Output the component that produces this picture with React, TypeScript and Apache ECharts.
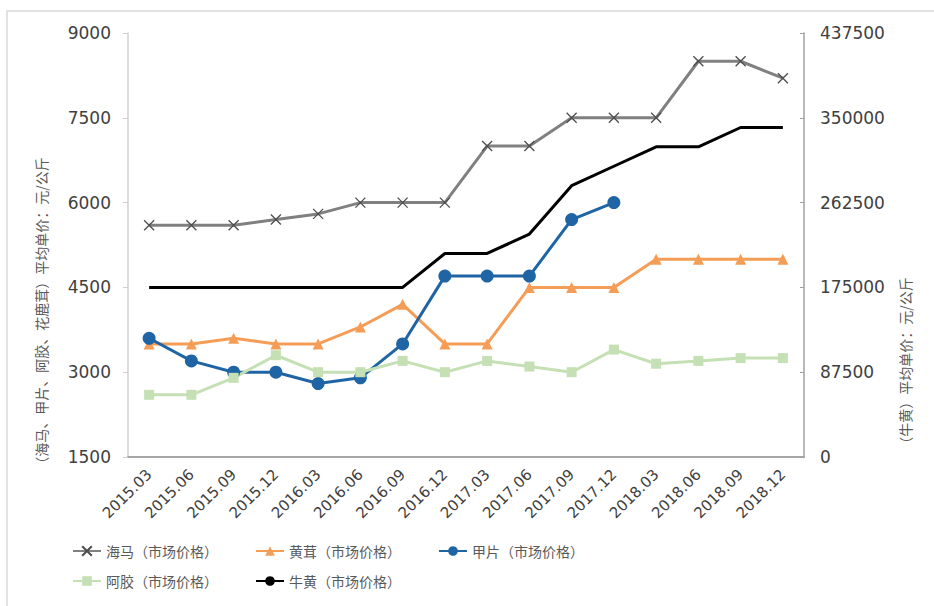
import React, { useEffect, useRef } from "react";
import * as echarts from "echarts";

const categories = [
  "2015.03", "2015.06", "2015.09", "2015.12", "2016.03", "2016.06", "2016.09", "2016.12",
  "2017.03", "2017.06", "2017.09", "2017.12", "2018.03", "2018.06", "2018.09", "2018.12",
];
const haima = [5600, 5600, 5600, 5700, 5800, 6000, 6000, 6000, 7000, 7000, 7500, 7500, 7500, 8500, 8500, 8200];
const huangrong = [3500, 3500, 3600, 3500, 3500, 3800, 4200, 3500, 3500, 4500, 4500, 4500, 5000, 5000, 5000, 5000];
const jiapian = [3600, 3200, 3000, 3000, 2800, 2900, 3500, 4700, 4700, 4700, 5700, 6000, null, null, null, null];
const ejiao = [2600, 2600, 2900, 3300, 3000, 3000, 3200, 3000, 3200, 3100, 3000, 3400, 3150, 3200, 3250, 3250];
const niuhuang = [175000, 175000, 175000, 175000, 175000, 175000, 175000, 210000, 210000, 230000, 280000, 300000, 320000, 320000, 340000, 340000];

const leftTicks = { min: 1500, max: 9000, interval: 1500 };
const rightTicks = { min: 0, max: 437500, interval: 87500 };

const names = ["海马（市场价格）", "黄茸（市场价格）", "甲片（市场价格）", "阿胶（市场价格）", "牛黄（市场价格）"];
const leftAxisName = "（海马、甲片、阿胶、花鹿茸）平均单价：元/公斤";
const rightAxisName = "（牛黄）平均单价：元/公斤";

const CJK = "'Noto Sans CJK SC', 'Noto Sans', sans-serif";
const NUM = "'DejaVu Sans', 'Liberation Sans', sans-serif";

export default function App() {
  const ref = useRef<HTMLDivElement>(null);
  useEffect(() => {
    if (!ref.current) return;
    const chart = echarts.init(ref.current, undefined, { renderer: "svg" });
    const legendBase = {
      orient: "horizontal",
      itemWidth: 28,
      itemHeight: 12,
      itemGap: 6,
      padding: 0,
      textStyle: { fontSize: 14, color: "#595959", fontFamily: CJK },
    };
    const legendPos = [
      [72, 544],
      [255, 544],
      [438, 544],
      [72, 574],
      [255, 574],
    ];
    const plain = (v: number) => String(v);
    chart.setOption({
      animation: false,
      backgroundColor: "#ffffff",
      grid: { left: 128, right: 130, top: 33, bottom: 149, containLabel: false },
      legend: names.map((n, i) => ({
        ...legendBase,
        data: [n],
        left: legendPos[i][0],
        top: legendPos[i][1],
      })),
      graphic: [
        {
          type: "rect",
          shape: { x: 7, y: 11, width: 960, height: 640 },
          style: { fill: "none", stroke: "#d9d9d9", lineWidth: 1.5 },
          silent: true,
        },
        {
          type: "text",
          x: 41,
          y: 314,
          rotation: Math.PI / 2,
          style: {
            text: leftAxisName,
            fontSize: 14,
            fill: "#595959",
            fontFamily: CJK,
            align: "center",
            verticalAlign: "middle",
          },
        },
        {
          type: "text",
          x: 905,
          y: 364,
          rotation: Math.PI / 2,
          style: {
            text: rightAxisName,
            fontSize: 14,
            fill: "#595959",
            fontFamily: CJK,
            align: "center",
            verticalAlign: "middle",
          },
        },
      ],
      xAxis: {
        type: "category",
        data: categories,
        boundaryGap: true,
        axisLine: { lineStyle: { color: "#a6a6a6", width: 2 } },
        axisTick: { show: false },
        axisLabel: {
          rotate: 45,
          interval: 0,
          fontSize: 15,
          color: "#404040",
          fontFamily: NUM,
          margin: 15,
        },
        splitLine: { show: false },
      },
      yAxis: [
        {
          type: "value",
          position: "left",
          min: leftTicks.min,
          max: leftTicks.max,
          interval: leftTicks.interval,
          axisLine: { show: true, lineStyle: { color: "#d0d0d0", width: 1.5 } },
          axisTick: { show: true, length: 5, lineStyle: { color: "#d0d0d0" } },
          axisLabel: { fontSize: 17, color: "#404040", fontFamily: NUM, margin: 17, formatter: plain },
          splitLine: { show: false },
        },
        {
          type: "value",
          position: "right",
          min: rightTicks.min,
          max: rightTicks.max,
          interval: rightTicks.interval,
          axisLine: { show: true, lineStyle: { color: "#a0a0a0", width: 1.5 } },
          axisTick: { show: true, inside: true, length: 4, lineStyle: { color: "#a0a0a0" } },
          axisLabel: { fontSize: 17, color: "#404040", fontFamily: NUM, margin: 16, formatter: plain },
          splitLine: { show: false },
        },
      ],
      series: [
        {
          name: names[0],
          type: "line",
          yAxisIndex: 0,
          data: haima,
          symbol: "path://M0,0L10,10M10,0L0,10",
          symbolSize: 10,
          lineStyle: { color: "#808080", width: 3 },
          itemStyle: { color: "rgba(0,0,0,0)", borderColor: "#4d4d4d", borderWidth: 1.3 },
        },
        {
          name: names[1],
          type: "line",
          yAxisIndex: 0,
          data: huangrong,
          symbol: "triangle",
          symbolSize: 11,
          lineStyle: { color: "#f59d56", width: 3 },
          itemStyle: { color: "#f59d56" },
        },
        {
          name: names[2],
          type: "line",
          yAxisIndex: 0,
          data: jiapian,
          symbol: "circle",
          symbolSize: 13,
          connectNulls: false,
          lineStyle: { color: "#1f65a6", width: 3 },
          itemStyle: { color: "#1f65a6" },
        },
        {
          name: names[3],
          type: "line",
          yAxisIndex: 0,
          data: ejiao,
          symbol: "rect",
          symbolSize: 10,
          lineStyle: { color: "#c5e0b4", width: 3 },
          itemStyle: { color: "#c5e0b4" },
        },
        {
          name: names[4],
          type: "line",
          yAxisIndex: 1,
          data: niuhuang,
          symbol: "none",
          showSymbol: false,
          lineStyle: { color: "#000000", width: 3 },
          itemStyle: { color: "#000000" },
        },
      ],
    });
    return () => chart.dispose();
  }, []);
  return (
    <div
      ref={ref}
      style={{ position: "fixed", left: 0, top: 0, width: 934, height: 606, background: "#fff" }}
    />
  );
}
